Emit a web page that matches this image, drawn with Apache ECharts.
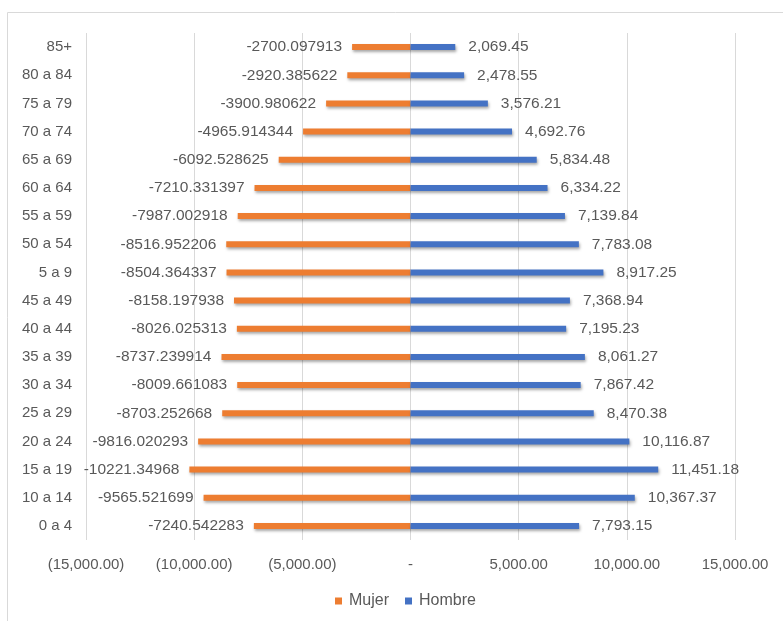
<!DOCTYPE html>
<html>
<head>
<meta charset="utf-8">
<script src="https://cdn.jsdelivr.net/npm/echarts@6/dist/echarts.min.js"></script>
<style>
html,body{margin:0;padding:0;background:#fff;}
#c{width:783px;height:621px;}
</style>
</head>
<body>
<div id="c"></div>
<script>
const categories = ['0 a 4','10 a 14','15 a 19','20 a 24','25 a 29','30 a 34','35 a 39','40 a 44','45 a 49','5 a 9','50 a 54','55 a 59','60 a 64','65 a 69','70 a 74','75 a 79','80 a 84','85+'];
const mujer = [-7240.542283, -9565.521699, -10221.34968, -9816.020293, -8703.252668, -8009.661083, -8737.239914, -8026.025313, -8158.197938, -8504.364337, -8516.952206, -7987.002918, -7210.331397, -6092.528625, -4965.914344, -3900.980622, -2920.385622, -2700.097913];
const hombre = [7793.15, 10367.37, 11451.18, 10116.87, 8470.38, 7867.42, 8061.27, 7195.23, 7368.94, 8917.25, 7783.08, 7139.84, 6334.22, 5834.48, 4692.76, 3576.21, 2478.55, 2069.45];

const fmt = v => Math.abs(v).toLocaleString('en-US',{minimumFractionDigits:2,maximumFractionDigits:2});
const FONT = '"Liberation Sans", Arial, sans-serif';
const TXT = '#595959';
const shadow = {shadowColor:'rgba(0,0,0,0.35)', shadowBlur:3, shadowOffsetX:1, shadowOffsetY:2};

const chart = echarts.init(document.getElementById('c'), null, {renderer:'canvas'});
chart.setOption({
  animation:false,
  textStyle:{fontFamily:FONT},
  graphic:[{type:'rect', shape:{x:7.5,y:12.5,width:900,height:900}, style:{fill:'none', stroke:'#d9d9d9', lineWidth:1}, silent:true, z:-10}],
  grid:{left:86, right:48, top:33, bottom:81, containLabel:false},
  legend:{
    bottom:7, left:330, icon:'rect', itemWidth:7, itemHeight:7, itemGap:16,
    textStyle:{color:TXT, fontSize:16, fontFamily:FONT, padding:[0,0,0,2]},
    data:['Mujer','Hombre']
  },
  xAxis:{
    type:'value', min:-15000, max:15000, interval:5000,
    axisLine:{show:false}, axisTick:{show:false},
    splitLine:{show:true, lineStyle:{color:'#d9d9d9', width:1}},
    axisLabel:{color:TXT, fontSize:15, fontFamily:FONT, margin:17,
      formatter: v => v < 0 ? '(' + fmt(v) + ')' : (v === 0 ? '-' : fmt(v))}
  },
  yAxis:{
    type:'category', data:categories,
    axisLine:{show:false}, axisTick:{show:false},
    axisLabel:{color:TXT, fontSize:15, fontFamily:FONT, margin:14}
  },
  series:[
    {name:'Mujer', type:'bar', data:mujer, barWidth:6, barGap:'-100%',
     itemStyle:Object.assign({color:'#ED7D31'}, shadow),
     label:{show:true, position:'left', distance:10, color:TXT, fontSize:15.5, fontFamily:FONT,
       formatter: p => String(p.value)}},
    {name:'Hombre', type:'bar', data:hombre, barWidth:6, barGap:'-100%',
     itemStyle:Object.assign({color:'#4472C4'}, shadow),
     label:{show:true, position:'right', distance:13, color:TXT, fontSize:15.5, fontFamily:FONT,
       formatter: p => fmt(p.value)}}
  ]
});
</script>
</body>
</html>
